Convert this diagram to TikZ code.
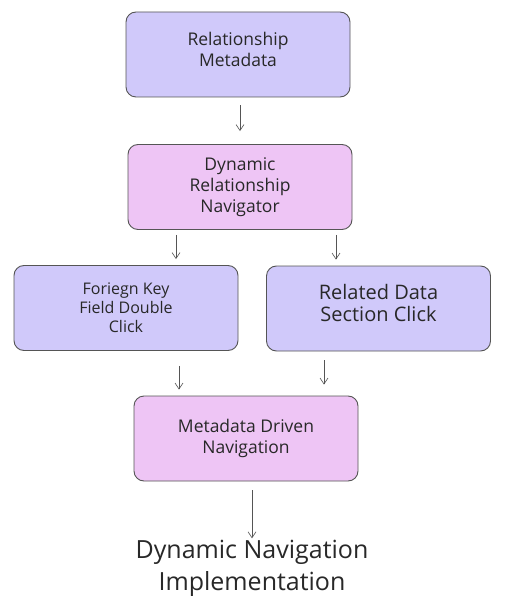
\documentclass[tikz,border=0pt]{standalone}
\usepackage{fontspec}
\setmainfont{Open Sans}
\usetikzlibrary{arrows.meta,calc}
\definecolor{lav}{RGB}{208,201,250}
\definecolor{pnk}{RGB}{238,197,245}
\definecolor{edge}{RGB}{85,85,85}
\definecolor{txt}{RGB}{40,40,40}
\begin{document}
\begin{tikzpicture}[x=1pt,y=-1pt,
  box/.style={draw=edge,line width=0.9pt,rounded corners=10pt,minimum width=224pt,minimum height=85pt,align=center,text=txt,font=\fontsize{17.5}{21}\selectfont,inner sep=0pt},
  arr/.style={draw=edge,line width=0.6pt,-{Straight Barb[length=6pt,width=8pt]}}]
\useasboundingbox[fill=white] (0,0) rectangle (512,612);
\node[box,fill=lav] (b1) at (238,54.5) {Relationship\\Metadata\\[-11pt]};
\node[box,fill=pnk] (b2) at (240,187) {Dynamic\\Relationship\\Navigator};
\node[box,fill=lav,font=\fontsize{16}{19}\selectfont] (b3) at (126,308) {Foriegn Key\\Field Double\\Click};
\node[box,fill=lav,font=\fontsize{20}{22}\selectfont] (b4) at (378.5,308.5) {Related Data\\Section Click\\[-10pt]};
\node[box,fill=pnk] (b5) at (246,438.5) {Metadata Driven\\Navigation};
\node[align=center,text=txt,font=\fontsize{25}{32}\selectfont] (t) at (252,568) {Dynamic Navigation\\Implementation};
\draw[arr] ($(b1.south)+(2,8)$) -- ($(b2.north)+(0,-13)$);
\draw[arr] ($(b2.south)+(-64,5)$) -- ($(b3.north)+(50,-6)$);
\draw[arr] ($(b2.south)+(96,5)$) -- ($(b4.north)+(-42.5,-6)$);
\draw[arr] ($(b3.south)+(53,15)$) -- ($(b5.north)+(-67,-6)$);
\draw[arr] ($(b4.south)+(-54.5,9)$) -- ($(b5.north)+(78,-11)$);
\draw[arr] ($(b5.south)+(6,9)$) -- ($(t.north)+(0,2)$);
\end{tikzpicture}
\end{document}
